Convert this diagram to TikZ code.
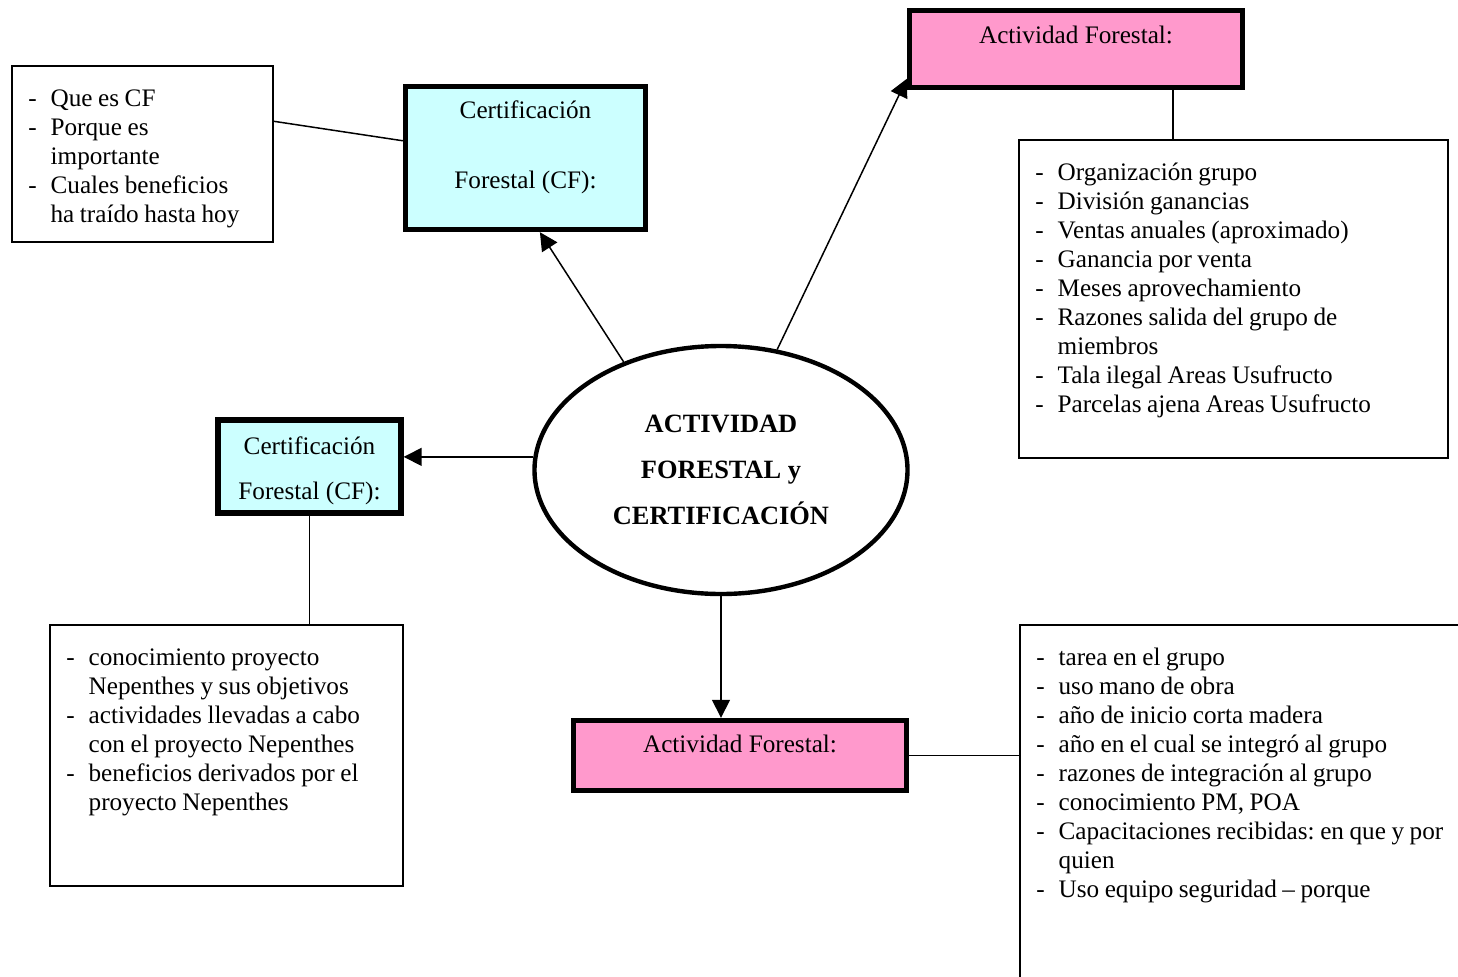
\documentclass[tikz,border=0pt]{standalone}
\usepackage{fontspec}
\setmainfont{Liberation Serif}
\usetikzlibrary{arrows.meta,positioning,shapes.geometric}
\definecolor{cfcyan}{HTML}{CCFFFF}
\definecolor{afpink}{HTML}{FF99CC}
\newcommand{\diagfont}{\fontsize{12.6}{14.5}\selectfont\frenchspacing}
\newcommand{\listsetup}{\leftskip=19.5pt\spaceskip=0.22em\relax}
\newcommand{\dashitem}{\par\noindent\strut\llap{-\hspace{7pt}}}
\tikzset{
  hub/.style={
    ellipse,
    draw=black,
    line width=2.2pt,
    fill=white,
    inner sep=0pt,
    minimum width=186.5pt,
    minimum height=124pt,
    align=center,
    font=\fontsize{13.2}{14.5}\selectfont\bfseries
  },
  headbox/.style={
    rectangle,
    draw=black,
    line width=2.7pt,
    inner sep=0pt
  },
  cfbox/.style={
    headbox,
    fill=cfcyan
  },
  afbox/.style={
    headbox,
    fill=afpink
  },
  headtext/.style={
    anchor=north,
    inner sep=0pt,
    align=center,
    font=\diagfont
  },
  listbox/.style={
    rectangle,
    draw=black,
    line width=0.75pt,
    fill=white,
    inner sep=0pt
  },
  listtext/.style={
    anchor=north west,
    inner xsep=0pt,
    inner ysep=5.85pt,
    text width=230pt,
    align=left,
    font=\diagfont
  },
  arrow/.style={
    -{Triangle[length=9pt,width=9pt]},
    line width=0.75pt,
    draw=black
  },
  link/.style={
    line width=0.75pt,
    draw=black
  }
}

\begin{document}
\begin{tikzpicture}[x=0.5pt, y=-0.5pt]
  \useasboundingbox (0,0) rectangle (1458,976);
  \clip (0,0) rectangle (1458,976);

  % central topic
  \node[hub] (centro) at (721,470) {ACTIVIDAD\\[8.5pt]FORESTAL y\\[8.5pt]CERTIFICACIÓN};

  % heading boxes
  \node[cfbox, minimum width=120pt, minimum height=71.5pt] (cf1) at (525.5,158) {};
  \node[cfbox, minimum width=91.5pt, minimum height=46.5pt] (cf2) at (309.5,466.5) {};
  \node[afbox, minimum width=166.5pt, minimum height=38.5pt] (af1) at (1076,49) {};
  \node[afbox, minimum width=166.5pt, minimum height=35pt] (af2) at (740,755.5) {};

  \node[headtext] (cf1t) at ([yshift=-6.85pt]cf1.north) {\strut Certificación\\[20.5pt]Forestal (CF):};
  \node[headtext] (cf2t) at ([yshift=-8.35pt]cf2.north) {\strut Certificación\\[8pt]Forestal (CF):};
  \node[headtext] (af1t) at ([yshift=-7.35pt]af1.north) {\strut Actividad Forestal:};
  \node[headtext] (af2t) at ([yshift=-6.85pt]af2.north) {\strut Actividad Forestal:};

  % question lists
  \node[listbox, minimum width=130.5pt, minimum height=88pt] (q1) at (142.5,154) {};
  \node[listbox, minimum width=214.5pt, minimum height=159pt] (r1) at (1233.5,299) {};
  \node[listbox, minimum width=176.5pt, minimum height=130.5pt] (q2) at (226.5,755.5) {};
  \node[listbox, minimum width=230pt, minimum height=190pt] (r2) at (1250,815) {};

  \node[listtext] (q1t) at (q1.north west) {\listsetup
    \dashitem Que es CF
    \dashitem Porque es\\importante
    \dashitem Cuales beneficios\\ha traído hasta hoy\par};
  \node[listtext] (r1t) at (r1.north west) {\listsetup
    \dashitem Organización grupo
    \dashitem División ganancias
    \dashitem Ventas anuales (aproximado)
    \dashitem Ganancia por venta
    \dashitem Meses aprovechamiento
    \dashitem Razones salida del grupo de\\miembros
    \dashitem Tala ilegal Areas Usufructo
    \dashitem Parcelas ajena Areas Usufructo\par};
  \node[listtext] (q2t) at (q2.north west) {\listsetup
    \dashitem conocimiento proyecto\\Nepenthes y sus objetivos
    \dashitem actividades llevadas a cabo\\con el proyecto Nepenthes
    \dashitem beneficios derivados por el\\proyecto Nepenthes\par};
  \node[listtext] (r2t) at (r2.north west) {\listsetup
    \dashitem tarea en el grupo
    \dashitem uso mano de obra
    \dashitem año de inicio corta madera
    \dashitem año en el cual se integró al grupo
    \dashitem razones de integración al grupo
    \dashitem conocimiento PM, POA
    \dashitem Capacitaciones recibidas: en que y por\\quien
    \dashitem Uso equipo seguridad – porque\par};

  % connectors
  \draw[arrow] (centro.132) -- (cf1.281);
  \draw[arrow] (centro.65) -- (af1.190);
  \draw[arrow] (centro.176) -- (centro.176 -| cf2.east);
  \draw[arrow] (centro.south) -- (centro.south |- af2.north);
  \draw[link] (q1.14) -- (cf1.172);
  \draw[link] (af1.337) -- (af1.337 |- r1.north);
  \draw[link] (cf2.south) -- (cf2.south |- q2.north);
  \draw[link] (af2.east) -- (af2.east -| r2.west);
\end{tikzpicture}
\end{document}
